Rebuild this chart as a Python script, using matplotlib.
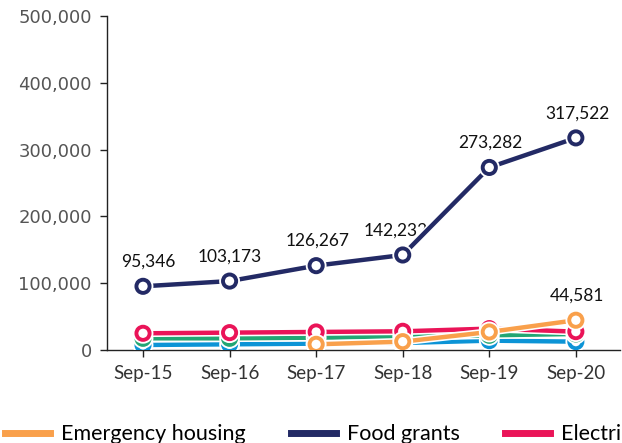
import matplotlib
matplotlib.use("Agg")
import matplotlib.pyplot as plt
import matplotlib.patheffects as pe
import numpy as np

# Data
months = ["Sep-15", "Sep-16", "Sep-17", "Sep-18", "Sep-19", "Sep-20"]
food_grants = [95346, 103173, 126267, 142232, 273282, 317522]
emergency_housing = [None, None, 8500, 12500, 27000, 44581]
electricity = [25000, 26000, 27000, 28000, 32000, 27500]
green_series = [17500, 17500, 18500, 20000, 22000, 24000]
blue_series = [7500, 8500, 9500, 10500, 14000, 12500]

names = ["Emergency housing", "Food grants", "Electricity", "Water", "Other grants"]
colors = {"Emergency housing": "#f9a04b", "Food grants": "#232a65",
          "Electricity": "#ea1458", "Water": "#22a674", "Other grants": "#0c94d6"}

plt.rcParams['font.family'] = ['Lato', 'DejaVu Sans']

fig = plt.figure(figsize=(6.22, 4.43), dpi=100)
ax = fig.add_axes([107 / 622, (443 - 350) / 443, 513 / 622, 334 / 443])

x = np.arange(len(months))
halo = [pe.Stroke(linewidth=5.5, foreground='white'), pe.Normal()]


def draw(vals, name, z):
    v = np.array([np.nan if a is None else a for a in vals], dtype=float)
    ax.plot(x, v, color=colors[name], lw=3.2, marker='o', ms=9.5, mfc='white',
            mec=colors[name], mew=2.8, zorder=z, label=name, path_effects=halo)


draw(blue_series, "Other grants", 3)
draw(green_series, "Water", 4)
draw(electricity, "Electricity", 5)
draw(emergency_housing, "Emergency housing", 6)
draw(food_grants, "Food grants", 7)

# value labels (small horizontal nudges as in the original)
nudges = [4, 0, 1, -5, 1, 1]
for i, v in enumerate(food_grants):
    ax.annotate(f"{v:,}", (x[i], v), xytext=(nudges[i], 12), textcoords='offset points',
                ha='center', va='bottom', fontsize=12.5, color='#111111')
ax.annotate(f"{emergency_housing[-1]:,}", (x[-1], emergency_housing[-1]), xytext=(1, 12),
            textcoords='offset points', ha='center', va='bottom', fontsize=12.5, color='#111111')

ax.set_xlim(-0.416, 5.51)
ax.set_ylim(0, 500000)
ax.set_xticks(x)
ax.set_xticklabels(months, fontsize=13.5, color='#333333')
yt = np.arange(0, 500001, 100000)
ax.set_yticks(yt)
ax.set_yticklabels([f"{int(t):,}" for t in yt], fontsize=13, color='#555555',
                   family='DejaVu Sans')
ax.tick_params(axis='both', length=5, width=1, color='#222222', pad=6)
for s in ['top', 'right']:
    ax.spines[s].set_visible(False)
for s in ['left', 'bottom']:
    ax.spines[s].set_color('#222222')
    ax.spines[s].set_linewidth(1)

handles, labels = ax.get_legend_handles_labels()
order = [labels.index(n) for n in names]
leg = fig.legend([handles[i] for i in order], [labels[i] for i in order],
                 loc='lower left', bbox_to_anchor=(-0.002, -0.017), ncol=5, frameon=False,
                 fontsize=15.5, handlelength=2.1, handletextpad=0.5, columnspacing=2.1,
                 borderaxespad=0, borderpad=0.3)
for h in leg.legend_handles:
    h.set_marker('')
    h.set_linewidth(5)
    h.set_path_effects([])

fig.savefig("out.png", dpi=100)
